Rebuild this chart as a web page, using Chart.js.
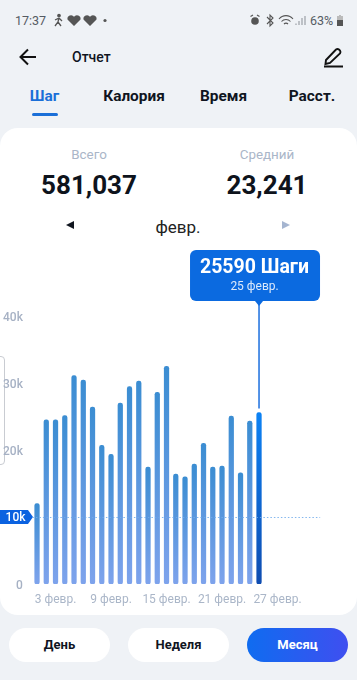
<!DOCTYPE html>
<html lang="ru">
<head>
<meta charset="utf-8">
<title>Отчет</title>
<script src="https://cdn.jsdelivr.net/npm/chart.js@4"></script>
<style>
  html, body { margin: 0; padding: 0; }
  body { width: 357px; height: 680px; position: relative; overflow: hidden; background: #eff2f6; font-family: Roboto, sans-serif; color: #10151f; }
  .abs { position: absolute; white-space: nowrap; }
  .mid { transform: translate(-50%, -50%); }
  .card { position: absolute; left: 0; top: 128px; width: 357px; height: 487px; background: #fff; border-radius: 18px; }
  .handle { position: absolute; left: -10px; top: 356px; width: 13px; height: 107px; border: 1px solid #c9ccd2; border-radius: 4px; background: #fff; }
  canvas { position: absolute; left: 0; top: 240px; }
  .tab { font-size: 15.4px; font-weight: 700; }
  .lbl { font-size: 13.4px; color: #aab6c8; }
  .num { font-size: 26px; font-weight: 700; color: #0e131c; }
  .btn { position: absolute; top: 628px; width: 101px; height: 34px; border-radius: 17px; background: #fff; font-size: 13px; font-weight: 700; line-height: 34px; text-align: center; }
  svg { position: absolute; }
</style>
</head>
<body>
<div class="abs" style="left:15px;top:13px;font-size:12.5px;color:#555b63">17:37</div>
<svg style="left:52px;top:13px" width="62" height="15" viewBox="0 0 62 15">
  <g stroke="#555" stroke-width="1.3" fill="none"><circle cx="7" cy="2.5" r="1.2" fill="#555"/><path d="M7 5 L6 9 L3 13 M6 9 L9 13 M3 7 L7 5 L10 8"/></g>
  <path d="M22 13 L15.5 6.5 A3.6 3.6 0 0 1 22 3.8 A3.6 3.6 0 0 1 28.5 6.5 Z" fill="#555"/>
  <path d="M38 13 L31.5 6.5 A3.6 3.6 0 0 1 38 3.8 A3.6 3.6 0 0 1 44.5 6.5 Z" fill="#555"/>
  <circle cx="53" cy="7.5" r="1.6" fill="#555"/>
</svg>
<svg style="left:248px;top:13px" width="60" height="15" viewBox="0 0 60 15">
  <circle cx="7" cy="8" r="3.8" fill="#555"/><path d="M2.5 3.5 L5 2 M11.5 3.5 L9 2" stroke="#555" stroke-width="1.2"/>
  <path d="M19 4 L25 10 L22 13 L22 2 L25 5 L19 11" stroke="#555" stroke-width="1.1" fill="none"/>
  <path d="M31 6 A9 9 0 0 1 45 6 M33.5 8.5 A6 6 0 0 1 42.5 8.5 M36 11 A2.8 2.8 0 0 1 40 11" stroke="#555" stroke-width="1.1" fill="none"/>
  <path d="M48 12 v-1.5 M51 12 v-4 M54 12 v-7 M57 12 v-9" stroke="#8a8f96" stroke-width="1"/>
</svg>
<div class="abs" style="left:310px;top:13px;font-size:12.5px;color:#555b63">63%</div>
<svg style="left:336px;top:14px" width="8" height="13" viewBox="0 0 8 13"><path d="M3 1 h2 v1 h2 v10 h-6 v-10 h2 z" fill="#bbb"/><rect x="1" y="6" width="6" height="6" fill="#555"/></svg>

<svg style="left:18px;top:46px" width="20" height="22" viewBox="0 0 20 22"><path d="M18 11 H3 M10 3.5 L2.5 11 L10 18.5" stroke="#111" stroke-width="2" fill="none"/></svg>
<div class="abs" style="left:72px;top:49px;font-size:14px;font-weight:500">Отчет</div>
<svg style="left:322px;top:46px" width="22" height="22" viewBox="0 0 22 22"><path d="M4 14 L14 3.5 Q15.5 2.5 17 3.5 L18 4.5 Q19 6 18 7.5 L8 17 L3.5 18 Z" stroke="#111" stroke-width="1.9" fill="none"/><path d="M2 20.5 H21" stroke="#111" stroke-width="2"/></svg>

<div class="abs tab mid" style="left:44.5px;top:96px;color:#1a6fd8">Шаг</div>
<div class="abs tab mid" style="left:134px;top:96px">Калория</div>
<div class="abs tab mid" style="left:223.5px;top:96px">Время</div>
<div class="abs tab mid" style="left:312px;top:96px">Расст.</div>
<div class="abs" style="left:32px;top:113px;width:25.5px;height:3px;border-radius:2px;background:#1a6fd8"></div>

<div class="card"></div>
<div class="handle"></div>

<div class="abs lbl mid" style="left:89px;top:154px">Всего</div>
<div class="abs lbl mid" style="left:267px;top:154px">Средний</div>
<div class="abs num mid" style="left:89px;top:185px">581,037</div>
<div class="abs num mid" style="left:267px;top:185px">23,241</div>
<div class="abs mid" style="left:178px;top:227px;font-size:17px;color:#222">февр.</div>
<div class="abs" style="left:66px;top:221px;border:4px solid transparent;border-left:0;border-right:8px solid #10151f"></div>
<div class="abs" style="left:282px;top:221px;border:4px solid transparent;border-right:0;border-left:8px solid #a5b5d0"></div>

<canvas id="stepsChart" width="357" height="370"></canvas>

<div class="btn" style="left:9px">День</div>
<div class="btn" style="left:128px">Неделя</div>
<div class="btn" style="left:247px;color:#fff;background:linear-gradient(90deg,#0f6cf0,#3f4ff0)">Месяц</div>

<script>
// 31 slots on the axis, only 25 days have data
const days = [
  "1 февр.", "2 февр.", "3 февр.", "4 февр.", "5 февр.", "6 февр.", "7 февр.",
  "8 февр.", "9 февр.", "10 февр.", "11 февр.", "12 февр.", "13 февр.", "14 февр.",
  "15 февр.", "16 февр.", "17 февр.", "18 февр.", "19 февр.", "20 февр.", "21 февр.",
  "22 февр.", "23 февр.", "24 февр.", "25 февр.", "26 февр.", "27 февр.", "28 февр.",
  "", " ", "  ",
];
const steps = [
  12000, 24500, 24500, 25150, 31100, 30450, 26400, 20700, 19350, 27000, 29450, 30300, 17450,
  28600, 32500, 16400, 16000, 17900, 21000, 17450, 17600, 25050, 16600, 24300, 25590,
];
const xTickLabels = ["3 февр.", "9 февр.", "15 февр.", "21 февр.", "27 февр."];
const yTicks = [0, 10000, 20000, 30000, 40000];
const yTickLabels = ["0", "", "20k", "30k", "40k"];
const goal = 10000;
const goalLabel = "10k";
const selectedIndex = 24;
const selectedTitle = "25590 Шаги";
const selectedDate = "25 февр.";

const barColor = (context) => {
  const chart = context.chart;
  if (!chart.chartArea || context.raw == null) return "#4a90d8";
  const y = chart.scales.y;
  const top = y.getPixelForValue(context.raw);
  const g = chart.ctx.createLinearGradient(0, top, 0, y.getPixelForValue(0));
  if (context.dataIndex === selectedIndex) {
    g.addColorStop(0, "#0c82f4");
    g.addColorStop(1, "#0f4cb0");
  } else {
    g.addColorStop(0, "#3b8dd2");
    g.addColorStop(1, "#7ea3ec");
  }
  return g;
};

const goalBadge = {
  id: "goalBadge",
  beforeDraw(chart) {
    const { ctx, scales } = chart;
    const y = scales.y.getPixelForValue(goal);
    ctx.save();
    ctx.fillStyle = "#0b62e0";
    ctx.beginPath();
    ctx.moveTo(0, y - 7);
    ctx.lineTo(28, y - 7);
    ctx.lineTo(33, y);
    ctx.lineTo(28, y + 7);
    ctx.lineTo(0, y + 7);
    ctx.closePath();
    ctx.fill();
    ctx.fillStyle = "#fff";
    ctx.font = "500 12px Roboto";
    ctx.textAlign = "right";
    ctx.textBaseline = "middle";
    ctx.fillText(goalLabel, 25.5, y + 0.5);
    ctx.restore();
  },
  afterDatasetsDraw(chart) {
    const { ctx, scales, chartArea } = chart;
    const y = scales.y.getPixelForValue(goal);
    ctx.save();
    ctx.strokeStyle = "rgba(110, 170, 235, 0.85)";
    ctx.lineWidth = 1;
    ctx.setLineDash([1.5, 2]);
    ctx.beginPath();
    ctx.moveTo(chartArea.left, y + 0.5);
    ctx.lineTo(chartArea.right + 1, y + 0.5);
    ctx.stroke();
    ctx.restore();
  },
};

// callout above the selected bar
const callout = {
  id: "callout",
  afterDraw(chart) {
    const { ctx, scales } = chart;
    const x = scales.x.getPixelForValue(selectedIndex);
    const barTop = scales.y.getPixelForValue(steps[selectedIndex]);
    const left = x - 69;
    const top = 10;
    ctx.save();
    ctx.strokeStyle = "#2a78e0";
    ctx.lineWidth = 1.6;
    ctx.beginPath();
    ctx.moveTo(x, top + 50);
    ctx.lineTo(x, barTop - 4);
    ctx.stroke();
    ctx.fillStyle = "#0b6ae0";
    ctx.beginPath();
    ctx.roundRect(left, top, 130, 51, 6);
    ctx.fill();
    ctx.beginPath();
    ctx.moveTo(x - 4, top + 51);
    ctx.lineTo(x, top + 56);
    ctx.lineTo(x + 4, top + 51);
    ctx.closePath();
    ctx.fill();
    ctx.fillStyle = "#fff";
    ctx.textAlign = "center";
    ctx.textBaseline = "middle";
    ctx.font = "700 19.5px Roboto";
    ctx.fillText(selectedTitle, left + 64.5, top + 18.5);
    ctx.font = "12px Roboto";
    ctx.fillStyle = "#dce9fb";
    ctx.fillText(selectedDate, left + 64.5, top + 37);
    ctx.restore();
  },
};

new Chart(document.getElementById("stepsChart"), {
  type: "bar",
  data: {
    labels: days,
    datasets: [
      {
        data: steps,
        backgroundColor: barColor,
        barThickness: 4.6,
        borderRadius: 2.3,
        borderSkipped: false,
      },
    ],
  },
  plugins: [goalBadge, callout],
  options: {
    responsive: false,
    animation: false,
    layout: { padding: { top: 76, right: 37.85 } },
    plugins: { legend: { display: false }, tooltip: { enabled: false } },
    scales: {
      x: {
        grid: { display: false },
        border: { display: false },
        afterFit: (scale) => { scale.height = 26; },
        ticks: {
          autoSkip: false,
          maxRotation: 0,
          padding: 1,
          color: "#aab6c8",
          font: { family: "Roboto", size: 12 },
          callback(value) {
            const label = this.getLabelForValue(value);
            return xTickLabels.includes(label) ? label : "";
          },
        },
      },
      y: {
        min: 0,
        max: 40000,
        grid: { display: false },
        border: { display: false },
        afterFit: (scale) => { scale.width = 32.4; },
        afterBuildTicks: (scale) => { scale.ticks = yTicks.map((value) => ({ value })); },
        ticks: {
          padding: 1.5,
          labelOffset: 2,
          color: "#a6b1c4",
          font: { family: "Roboto", size: 12, weight: 500 },
          callback: (value) => yTickLabels[yTicks.indexOf(value)],
        },
      },
    },
  },
});
</script>
</body>
</html>
